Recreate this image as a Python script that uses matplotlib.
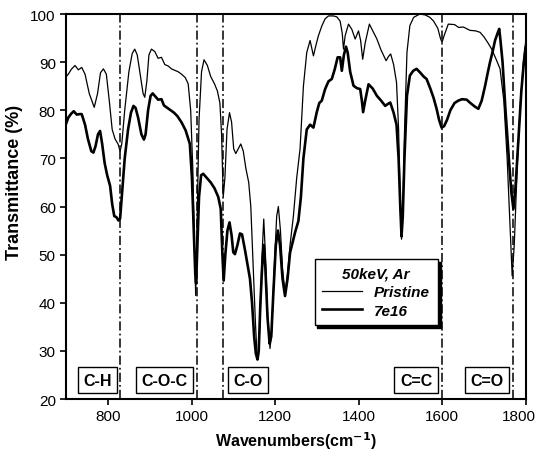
import matplotlib
matplotlib.use("Agg")
import matplotlib.pyplot as plt
import matplotlib.transforms as mtransforms

plt.rcParams['font.family'] = ['Liberation Sans', 'DejaVu Sans']

# FTIR transmittance spectra, wavenumber (cm-1) vs transmittance (%)
pristine_wn = [700, 705, 712, 721, 729, 737, 745, 755, 767, 775, 782, 789, 796, 803, 810, 817,
               824, 829, 833, 840, 850, 858, 864, 870, 878, 884, 888, 893, 898, 904, 912, 920,
               928, 936, 944, 952, 960, 968, 976, 985, 992, 998, 1003, 1007, 1010, 1013, 1018,
               1024, 1030, 1038, 1046, 1055, 1062, 1068, 1072, 1076, 1080, 1085, 1091, 1096,
               1101, 1106, 1112, 1118, 1124, 1130, 1137, 1142, 1148, 1153, 1157, 1160, 1164,
               1169, 1173, 1177, 1182, 1188, 1192, 1198, 1204, 1208, 1213, 1218, 1224, 1230,
               1236, 1244, 1252, 1260, 1268, 1276, 1284, 1292, 1298, 1304, 1312, 1320, 1328,
               1340, 1348, 1356, 1361, 1364, 1368, 1376, 1384, 1392, 1400, 1405, 1410, 1416,
               1426, 1434, 1444, 1454, 1466, 1472, 1477, 1484, 1491, 1496, 1500, 1503, 1506,
               1510, 1516, 1523, 1532, 1547, 1560, 1571, 1580, 1590, 1596, 1600, 1605, 1615,
               1630, 1640, 1651, 1660, 1667, 1680, 1691, 1700, 1710, 1719, 1730, 1739, 1748,
               1756, 1763, 1768, 1773, 1780, 1788, 1795, 1800]
pristine_t = [87.0, 87.5, 88.5, 89.3, 88.4, 88.9, 87.5, 83.5, 80.6, 83.5, 87.8, 88.6, 87.5, 82,
              76, 74, 73, 71.5, 73, 80, 88, 91.8, 92.7, 91.5, 87, 83.5, 82.7, 86, 91.5, 92.7,
              92.2, 90.8, 91, 89.5, 89.2, 88.6, 88.3, 88, 87.5, 86.8, 85.5, 80, 68, 52, 41.5,
              55, 78, 88, 90.5, 89.3, 87, 85.5, 84, 81.5, 75, 62, 66, 76, 79.5, 77.5, 72, 71,
              72, 73, 71.5, 68, 65, 60, 47, 36, 29, 28.6, 36, 50, 57.4, 50, 38, 30.5, 34, 47,
              58, 60, 55, 47, 42, 46, 52, 58, 66, 72, 85, 92, 94.5, 91.3, 93.5, 95.5, 97.5,
              99, 99.6, 99.6, 99.4, 98.5, 96, 92.7, 95.5, 97.9, 96.8, 94.8, 96.5, 94.5, 90.6,
              94, 97.9, 96.5, 94.8, 92.5, 90.3, 91.2, 91.7, 89.5, 85.8, 76, 60, 53.2, 58, 75,
              92, 97.6, 99.3, 100, 99.8, 99.3, 98.5, 97, 95, 94.1, 95.5, 97.9, 97.8, 97.2,
              97.3, 96.9, 96.6, 96.5, 96.2, 95.3, 94, 92.7, 90.5, 88.6, 82, 70, 56, 45.6, 52,
              68, 82, 90, 94]

irr_wn = [700, 705, 712, 718, 725, 732, 737, 745, 752, 760, 765, 770, 776, 781, 786, 792, 798,
          805, 810, 815, 820, 825, 829, 833, 840, 848, 855, 861, 866, 872, 880, 886, 890, 896,
          902, 907, 914, 920, 928, 934, 942, 950, 958, 966, 976, 986, 996, 1001, 1005, 1009,
          1011, 1014, 1018, 1023, 1028, 1036, 1046, 1055, 1064, 1070, 1074, 1077, 1081, 1086,
          1091, 1096, 1100, 1104, 1110, 1116, 1121, 1128, 1134, 1140, 1145, 1150, 1154, 1158,
          1161, 1165, 1170, 1173, 1177, 1182, 1187, 1191, 1196, 1202, 1207, 1212, 1218, 1224,
          1230, 1236, 1248, 1256, 1262, 1268, 1276, 1284, 1292, 1300, 1306, 1312, 1320, 1328,
          1336, 1343, 1350, 1356, 1360, 1365, 1370, 1374, 1380, 1388, 1396, 1404, 1408, 1411,
          1416, 1424, 1434, 1444, 1454, 1464, 1470, 1476, 1484, 1491, 1496, 1500, 1503, 1506,
          1510, 1516, 1523, 1531, 1539, 1548, 1556, 1563, 1572, 1580, 1587, 1593, 1599, 1605,
          1612, 1620, 1630, 1639, 1648, 1659, 1668, 1678, 1687, 1695, 1703, 1710, 1715, 1722,
          1727, 1733, 1737, 1740, 1745, 1752, 1760, 1766, 1771, 1776, 1783, 1790, 1796, 1800]
irr_t = [77.3, 78.5, 79.3, 79.8, 79.1, 79.2, 79.2, 77, 74, 71.5, 71.2, 72.5, 75, 75.7, 73, 69,
         66.5, 64.3, 60.5, 58, 57.8, 57.1, 57.5, 62, 70, 76, 79.5, 80.9, 80.5, 78.5, 75, 73.9,
         75, 80, 83, 83.5, 82.8, 82.2, 82.3, 81, 80.5, 80, 79.5, 78.8, 77.5, 75.8, 73, 66, 56,
         46, 44, 52, 62, 66.5, 66.8, 66, 65, 63.8, 62, 59.5, 50, 44.6, 50, 55, 56.7, 54, 50.5,
         50.1, 52, 54.4, 54.2, 51, 48, 45, 40, 33, 29.5, 28.2, 30, 40, 49, 52, 47, 37, 31.5,
         33, 42, 52, 55, 52, 45, 41.4, 45, 50.4, 54.6, 57, 62, 70, 76, 77, 76.4, 79.6, 81.5,
         82, 84.4, 86, 86.5, 88.5, 91, 91, 88.2, 91.5, 93.2, 92, 88, 85.1, 84.6, 84.4, 82,
         79.6, 82, 85.4, 84.5, 83, 82, 80.9, 81.3, 81.6, 79.5, 77, 70, 60, 53.8, 58, 70, 83,
         87.2, 88.2, 88.6, 87.8, 87, 86.5, 84.5, 82.5, 80.3, 78, 76.4, 76.7, 78, 80, 81.5,
         82, 82.3, 82.2, 81.5, 80.8, 80.3, 82, 85, 88, 90, 92.5, 94.5, 96, 96.9, 94.5, 90,
         80, 70, 63, 59.5, 64, 74, 84, 90, 93]

band_positions = [829, 1012, 1076, 1600, 1770]
band_labels = ["C-H", "C-O-C", "C-O", "C=C", "C=O"]
band_label_x = [775, 935, 1135, 1538, 1707]
xticks = [800, 1000, 1200, 1400, 1600, 1800]
yticks = [20, 30, 40, 50, 60, 70, 80, 90, 100]

fig = plt.figure(figsize=(5.4, 4.56), dpi=100)
ax = fig.add_axes([0.1227, 0.1228, 0.8505, 0.8443])

ax.plot(pristine_wn, pristine_t, color='black', lw=0.9, label='Pristine')
ax.plot(irr_wn, irr_t, color='black', lw=1.9, label='7e16')

for xv in band_positions:
    ax.axvline(xv, color='black', lw=1.1, ls=(0, (6, 2, 1.2, 2)), zorder=1)

for xv, txt in zip(band_label_x, band_labels):
    ax.text(xv, 23.9, txt, ha='center', va='center', fontsize=11.5, fontweight='bold',
            bbox=dict(boxstyle='square,pad=0.35', fc='white', ec='black', lw=1.0))

ax.set_xlim(700, 1800)
ax.set_ylim(20, 100)
ax.set_xticks(xticks)
ax.set_yticks(yticks)
ax.tick_params(width=1.2, length=4, direction='out')
for lab in ax.get_xticklabels() + ax.get_yticklabels():
    lab.set_family(['Liberation Sans Narrow', 'Liberation Sans'])
    lab.set_fontsize(11)

# keep the last x tick label inside the figure edge
last = ax.xaxis.get_major_ticks()[-1].label1
last.set_transform(last.get_transform()
                   + mtransforms.ScaledTranslation(-5 / 72, 0, fig.dpi_scale_trans))

for sp in ax.spines.values():
    sp.set_linewidth(1.5)

ax.set_xlabel('Wavenumbers(cm$^{\\mathbf{-1}}$)', fontsize=11.5, fontweight='bold', labelpad=4)
ax.set_ylabel('Transmittance (%)', fontsize=13, fontweight='bold', labelpad=6)
ax.yaxis.set_label_coords(-0.095, 0.566)

leg = ax.legend(loc='upper left', bbox_to_anchor=(0.524, 0.384), frameon=True,
                fancybox=False, shadow={'color': 'black', 'alpha': 1.0}, edgecolor='black',
                title='50keV, Ar', handlelength=2.6, borderpad=0.5, labelspacing=0.3,
                prop={'weight': 'bold', 'style': 'italic', 'size': 11})
leg.get_title().set_fontweight('bold')
leg.get_title().set_fontstyle('italic')
leg.get_title().set_fontsize(11)
leg.get_frame().set_linewidth(1.0)
leg.get_frame().set_alpha(1.0)

fig.savefig('out.png', dpi=100)
